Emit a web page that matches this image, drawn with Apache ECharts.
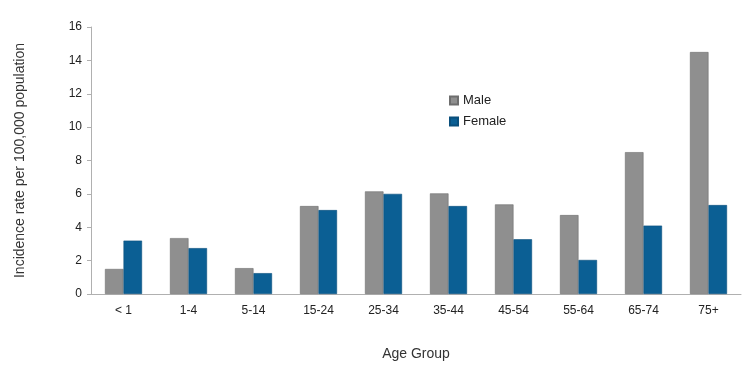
<!DOCTYPE html>
<html><head><meta charset="utf-8">
<script src="https://cdn.jsdelivr.net/npm/echarts@6/dist/echarts.min.js"></script>
<style>html,body{margin:0;padding:0;background:#fff}#c{width:750px;height:367px}</style>
</head><body><div id="c"></div>
<script>
const categories = ['< 1','1-4','5-14','15-24','25-34','35-44','45-54','55-64','65-74','75+'];
const maleValues = [1.5, 3.35, 1.55, 5.27, 6.15, 6.03, 5.37, 4.73, 8.5, 14.5];
const femaleValues = [3.2, 2.75, 1.25, 5.03, 6.0, 5.27, 3.28, 2.04, 4.1, 5.33];
const yTicks = [0, 2, 4, 6, 8, 10, 12, 14, 16];

const chart = echarts.init(document.getElementById('c'));
const font = 'Liberation Sans, Arial, sans-serif';
chart.setOption({
  animation: false,
  grid: {left: 91, right: 9, top: 27, bottom: 73},
  legend: {
    orient: 'vertical', left: 444, top: 89, itemWidth: 8, itemHeight: 8, itemGap: 8,
    icon: 'rect',
    textStyle: {fontFamily: font, fontSize: 13, color: '#222'},
    data: ['Male', 'Female']
  },
  xAxis: {
    type: 'category', data: categories,
    name: 'Age Group', nameLocation: 'middle', nameGap: 53,
    nameTextStyle: {fontFamily: font, fontSize: 14, color: '#333'},
    axisLine: {lineStyle: {color: '#b0b0b0'}},
    axisTick: {show: false},
    axisLabel: {fontFamily: font, fontSize: 12, color: '#222', margin: 11}
  },
  yAxis: {
    type: 'value', min: yTicks[0], max: yTicks[yTicks.length-1], interval: 2,
    name: 'Incidence rate per 100,000 population', nameLocation: 'middle', nameGap: 64,
    nameTextStyle: {fontFamily: font, fontSize: 14, color: '#333'},
    axisLine: {show: true, lineStyle: {color: '#b0b0b0'}},
    axisTick: {show: true, length: 4, inside: false, lineStyle: {color: '#b0b0b0'}},
    splitLine: {show: false},
    axisLabel: {fontFamily: font, fontSize: 12, color: '#222', margin: 9}
  },
  series: [
    {name: 'Male', type: 'bar', data: maleValues, barGap: '0%', barCategoryGap: '43%',
     itemStyle: {color: '#8f8f8f', borderColor: '#6e6e6e', borderWidth: 0.6}},
    {name: 'Female', type: 'bar', data: femaleValues, barGap: '0%', barCategoryGap: '43%',
     itemStyle: {color: '#0b5f94', borderColor: '#0a4f7c', borderWidth: 0.6}}
  ]
});
</script></body></html>
